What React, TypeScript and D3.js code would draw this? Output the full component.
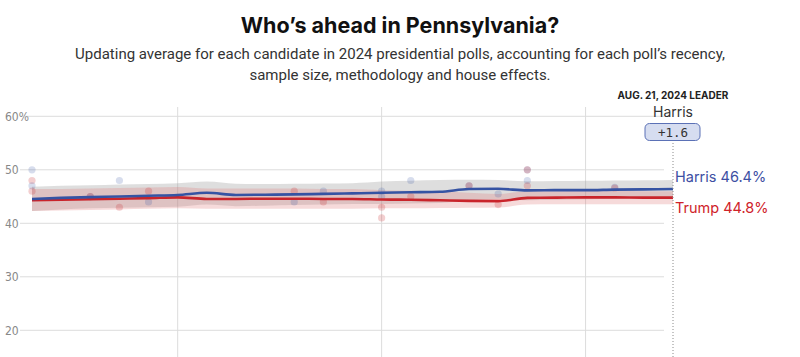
import React from "react";
import * as d3 from "d3";

const W = 800;
const H = 357;

// Daily trend dates (Jul 30 .. Aug 21, 2024)
const trendDates: string[] = [
  "2024-07-30", "2024-07-31", "2024-08-01", "2024-08-02", "2024-08-03", "2024-08-04",
  "2024-08-05", "2024-08-06", "2024-08-07", "2024-08-08", "2024-08-09", "2024-08-10",
  "2024-08-11", "2024-08-12", "2024-08-13", "2024-08-14", "2024-08-15", "2024-08-16",
  "2024-08-17", "2024-08-18", "2024-08-19", "2024-08-20", "2024-08-21",
];
const harrisAvg = [44.55, 44.75, 44.9, 45.0, 45.15, 45.3, 45.7, 45.3, 45.35, 45.4, 45.5, 45.6, 45.7, 45.8, 45.9, 46.4, 46.45, 46.15, 46.2, 46.2, 46.3, 46.35, 46.4];
const trumpAvg = [44.3, 44.4, 44.5, 44.6, 44.7, 44.85, 44.55, 44.55, 44.6, 44.6, 44.55, 44.55, 44.45, 44.4, 44.3, 44.2, 44.15, 44.75, 44.8, 44.85, 44.85, 44.8, 44.8];
const harrisUpper = [46.85, 47.0, 47.1, 47.25, 47.35, 47.5, 47.8, 47.4, 47.35, 47.4, 47.45, 47.5, 47.8, 47.95, 48.1, 48.15, 48.1, 47.85, 47.9, 47.95, 48.0, 48.05, 48.1];
const harrisLower = [42.3, 42.6, 42.8, 42.9, 43.0, 43.1, 43.5, 43.2, 43.3, 43.4, 43.5, 43.6, 43.6, 43.7, 43.8, 44.3, 44.5, 44.3, 44.4, 44.5, 44.6, 44.6, 44.7];
const trumpUpper = [46.4, 46.4, 46.5, 46.6, 46.7, 46.8, 46.5, 46.5, 46.5, 46.5, 46.4, 46.4, 46.2, 46.1, 46.0, 45.7, 45.5, 46.0, 46.0, 46.1, 46.1, 46.0, 46.0];
const trumpLower = [42.3, 42.4, 42.5, 42.6, 42.7, 42.8, 42.7, 42.7, 42.7, 42.7, 42.7, 42.7, 42.8, 42.8, 42.85, 42.9, 42.95, 43.5, 43.55, 43.55, 43.55, 43.55, 43.55];

// Individual polls
const pollDates: string[] = [
  "2024-07-30", "2024-07-30", "2024-08-01", "2024-08-02", "2024-08-03", "2024-08-08",
  "2024-08-09", "2024-08-11", "2024-08-11", "2024-08-12", "2024-08-14", "2024-08-15",
  "2024-08-16", "2024-08-16", "2024-08-19",
];
const pollHarris = [50, 47, 45, 48, 44, 44, 46, 46, 45, 48, 47, 45.5, 48, 50, 46.7];
const pollTrump = [48, 46, 45, 43, 46, 46, 44, 43, 41, 45, 47, 43.5, 47, 50, 46.6];

const yTicks = [60, 50, 40, 30, 20];
const weekGrid = ["2024-08-04", "2024-08-11", "2024-08-18"];
const leaderDate = "2024-08-21";
const leaderLabel = "AUG. 21, 2024 LEADER";
const leaderName = "Harris";
const leaderMargin = "+1.6";
const harrisLabel = "Harris 46.4%";
const trumpLabel = "Trump 44.8%";

const title = "Who\u2019s ahead in Pennsylvania?";
const subtitle1 = "Updating average for each candidate in 2024 presidential polls, accounting for each poll\u2019s recency,";
const subtitle2 = "sample size, methodology and house effects.";

const BLUE = "#3553a3";
const RED = "#c9242b";

const parse = d3.timeParse("%Y-%m-%d");

export default function App() {
  const x = d3
    .scaleTime()
    .domain([parse("2024-07-30")!, parse("2024-08-21")!])
    .range([32, 673]);
  const y = d3.scaleLinear().domain([20, 60]).range([330.3, 116.3]);

  const dates = trendDates.map((d) => parse(d)!);
  const idx = dates.map((_, i) => i);

  const line = (vals: number[]) =>
    d3
      .line<number>()
      .x((i) => x(dates[i]))
      .y((i) => y(vals[i]))
      .curve(d3.curveMonotoneX)(idx) || "";
  const area = (lo: number[], hi: number[]) =>
    d3
      .area<number>()
      .x((i) => x(dates[i]))
      .y0((i) => y(lo[i]))
      .y1((i) => y(hi[i]))
      .curve(d3.curveMonotoneX)(idx) || "";

  const lx = x(parse(leaderDate)!);
  const sans = "Inter, 'Noto Sans', sans-serif";
  const sub = "Roboto, 'Noto Sans', sans-serif";
  const cond = "'Liberation Sans Narrow', 'DejaVu Sans Condensed', 'DejaVu Sans', sans-serif";

  return (
    <svg
      width={W}
      height={H}
      style={{ position: "absolute", left: 0, top: 0, background: "#fff" }}
      fontFamily={sans}
    >
      <text x={400} y={33} textAnchor="middle" fontSize={21.5} fontWeight={700} fill="#111">
        {title}
      </text>
      <text x={400} y={59} textAnchor="middle" fontSize={15} fill="#333" fontFamily={sub}>
        {subtitle1}
      </text>
      <text x={400} y={80} textAnchor="middle" fontSize={15} fill="#333" fontFamily={sub}>
        {subtitle2}
      </text>

      {/* horizontal grid */}
      {yTicks.map((t) => (
        <g key={t}>
          <line x1={t === 60 ? 25 : 20} x2={664} y1={y(t)} y2={y(t)} stroke="#dcdcdc" strokeWidth={1} />
          <text
            x={5}
            y={y(t)}
            dy="0.35em"
            fontSize={12}
            fill="#888"
            fontFamily={cond}
            style={{ fontStretch: "condensed" }}
          >
            {t === 60 ? "60%" : String(t)}
          </text>
        </g>
      ))}

      {/* weekly vertical grid */}
      {weekGrid.map((d) => (
        <line
          key={d}
          x1={x(parse(d)!)}
          x2={x(parse(d)!)}
          y1={107}
          y2={H}
          stroke="#dcdcdc"
          strokeWidth={1}
        />
      ))}

      {/* bands */}
      <path d={area(harrisLower, harrisUpper)} fill="#9a9a9a" fillOpacity={0.33} />
      <path d={area(trumpLower, trumpUpper)} fill="#e07a7a" fillOpacity={0.28} />

      {/* polls */}
      {pollDates.map((d, i) => (
        <g key={i}>
          <circle cx={x(parse(d)!)} cy={y(pollHarris[i])} r={3.6} fill={BLUE} fillOpacity={0.2} />
          <circle cx={x(parse(d)!)} cy={y(pollTrump[i])} r={3.6} fill={RED} fillOpacity={0.22} />
        </g>
      ))}

      {/* trend lines */}
      <path d={line(trumpAvg)} fill="none" stroke={RED} strokeWidth={2.6} />
      <path d={line(harrisAvg)} fill="none" stroke={BLUE} strokeWidth={2.6} />

      {/* leader marker */}
      <line x1={lx} x2={lx} y1={140} y2={H} stroke="#8a8a8a" strokeWidth={1} strokeDasharray="1,2" />
      <text x={lx} y={99} textAnchor="middle" fontSize={10} fontWeight={700} fill="#222">
        {leaderLabel}
      </text>
      <text x={lx} y={117} textAnchor="middle" fontSize={14} fill="#333">
        {leaderName}
      </text>
      <rect x={lx - 28} y={123.5} width={55} height={17} rx={4.5} fill="#d6ddf0" stroke="#5b71b6" strokeWidth={1} />
      <text
        x={lx}
        y={136.5}
        textAnchor="middle"
        fontSize={12.5}
        fill="#333"
        fontFamily="'DejaVu Sans Mono', 'Liberation Mono', monospace"
      >
        {leaderMargin}
      </text>

      <text x={675} y={182} fontSize={14.5} fill="#3d4fa3">
        {harrisLabel}
      </text>
      <text x={675} y={212.5} fontSize={14.5} fill="#cf2229">
        {trumpLabel}
      </text>
    </svg>
  );
}
